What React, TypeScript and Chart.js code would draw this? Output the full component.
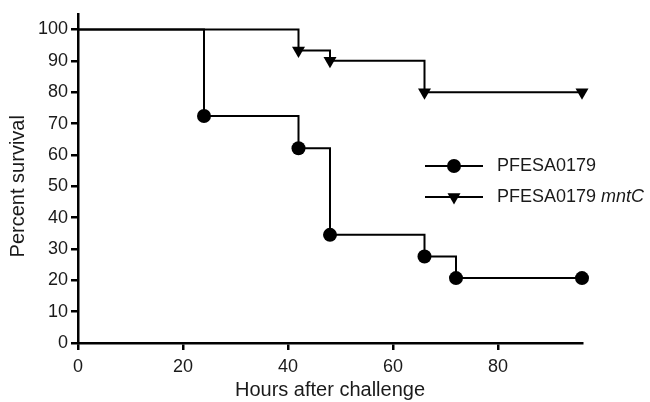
import React, { useEffect, useRef } from "react";
import { Chart, registerables } from "chart.js";

Chart.register(...registerables);

const hoursA = [0, 24, 42, 48, 66, 72, 96];
const survivalA = [100, 72.4, 62.1, 34.5, 27.6, 20.7, 20.7];
const hoursB = [0, 42, 48, 66, 96];
const survivalB = [100, 93.3, 90, 80, 80];
const seriesNames = ["PFESA0179", "PFESA0179"];
const seriesItalic = ["", "mntC"];
const xTicks = [0, 20, 40, 60, 80];
const yTicks = [0, 10, 20, 30, 40, 50, 60, 70, 80, 90, 100];
const xTitle = "Hours after challenge";
const yTitle = "Percent survival";

const FONT = "'Liberation Sans', Arial, sans-serif";
const TEXT = "#1a1a1a";

function drawMarker(ctx: CanvasRenderingContext2D, style: string, x: number, y: number, r: number) {
  ctx.beginPath();
  if (style === "circle") {
    ctx.arc(x, y, r, 0, Math.PI * 2);
  } else {
    for (let k = 0; k < 3; k++) {
      const a = Math.PI + (k * 2 * Math.PI) / 3;
      const px = x + Math.sin(a) * r;
      const py = y - Math.cos(a) * r;
      if (k === 0) ctx.moveTo(px, py);
      else ctx.lineTo(px, py);
    }
    ctx.closePath();
  }
  ctx.fill();
}

const overlayPlugin = {
  id: "overlay",
  afterDraw(chart: any) {
    const ctx = chart.ctx;
    const y = chart.scales.y;
    ctx.save();
    const cy = (y.getPixelForValue(0) + y.getPixelForValue(100)) / 2;
    ctx.translate(18, cy);
    ctx.rotate(-Math.PI / 2);
    ctx.fillStyle = TEXT;
    ctx.font = `20px ${FONT}`;
    ctx.textAlign = "center";
    ctx.textBaseline = "middle";
    ctx.fillText(yTitle, 0, 0);
    ctx.restore();

    ctx.save();
    const lx0 = 425, lx1 = 483, tx = 497;
    const rows = [166, 197];
    const styles = ["circle", "triangle"];
    rows.forEach((ry, i) => {
      ctx.strokeStyle = "#000";
      ctx.lineWidth = 2;
      ctx.beginPath();
      ctx.moveTo(lx0, ry);
      ctx.lineTo(lx1, ry);
      ctx.stroke();
      ctx.fillStyle = "#000";
      drawMarker(ctx, styles[i], (lx0 + lx1) / 2, ry, i === 0 ? 7 : 7.5);
      ctx.fillStyle = TEXT;
      ctx.font = `18px ${FONT}`;
      ctx.textAlign = "left";
      ctx.textBaseline = "middle";
      const base = seriesNames[i];
      ctx.fillText(base, tx, ry);
      if (seriesItalic[i]) {
        const w = ctx.measureText(base + " ").width;
        ctx.font = `italic 18px ${FONT}`;
        ctx.fillText(seriesItalic[i], tx + w, ry);
      }
    });
    ctx.restore();
  },
};

export default function App() {
  const ref = useRef<HTMLCanvasElement | null>(null);
  useEffect(() => {
    document.body.style.margin = "0";
    const canvas = ref.current!;
    const chart = new Chart(canvas, {
      type: "line",
      data: {
        datasets: [
          {
            label: seriesNames[0],
            data: hoursA.map((h, i) => ({ x: h, y: survivalA[i] })),
            stepped: "before",
            borderColor: "#000",
            backgroundColor: "#000",
            borderWidth: 2,
            pointStyle: "circle",
            pointRadius: hoursA.map((h) => (h === 0 ? 0 : 7)),
            pointBorderWidth: 0,
            clip: false,
          },
          {
            label: seriesNames[1] + " " + seriesItalic[1],
            data: hoursB.map((h, i) => ({ x: h, y: survivalB[i] })),
            stepped: "before",
            borderColor: "#000",
            backgroundColor: "#000",
            borderWidth: 2,
            pointStyle: "triangle",
            rotation: 180,
            pointRadius: hoursB.map((h) => (h === 0 ? 0 : 7.5)),
            pointBorderWidth: 0,
            clip: false,
          },
        ],
      },
      options: {
        animation: false,
        responsive: true,
        maintainAspectRatio: false,
        layout: { padding: { top: 7, right: 68, left: 0, bottom: 0 } },
        plugins: { legend: { display: false }, tooltip: { enabled: false } },
        scales: {
          x: {
            type: "linear",
            min: 0,
            max: 96,
            afterBuildTicks: (s: any) => {
              s.ticks = xTicks.map((v) => ({ value: v }));
            },
            afterFit: (s: any) => {
              s.height = 59;
            },
            border: { display: true, color: "#000", width: 2.5 },
            grid: { drawOnChartArea: false, drawTicks: true, tickLength: 7, color: "#000", lineWidth: 2.5 },
            ticks: { color: TEXT, font: { family: FONT, size: 18 }, padding: 6, maxRotation: 0 },
            title: { display: true, text: xTitle, color: TEXT, font: { family: FONT, size: 20 }, padding: { top: 0, bottom: 0 } },
          },
          y: {
            type: "linear",
            min: 0,
            max: 105,
            afterBuildTicks: (s: any) => {
              s.ticks = yTicks.map((v) => ({ value: v }));
            },
            afterFit: (s: any) => {
              s.width = 78;
            },
            border: { display: true, color: "#000", width: 2.5 },
            grid: { drawOnChartArea: false, drawTicks: true, tickLength: 7, color: "#000", lineWidth: 2.5 },
            ticks: { color: TEXT, font: { family: FONT, size: 18 }, padding: 3 },
          },
        },
      },
      plugins: [overlayPlugin],
    } as any);
    return () => chart.destroy();
  }, []);
  return (
    <div style={{ position: "absolute", left: 0, top: 0, width: 650, height: 402, background: "#fff" }}>
      <canvas ref={ref} />
    </div>
  );
}
